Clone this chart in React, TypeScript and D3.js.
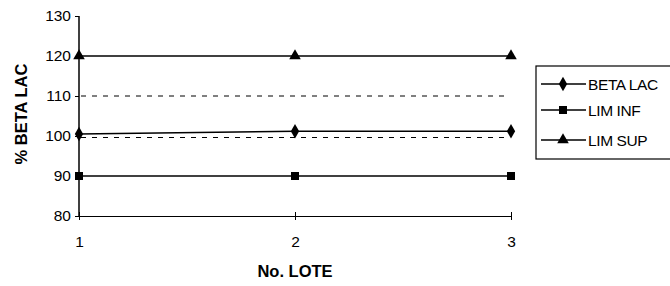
import React, { useRef, useEffect } from 'react';
import * as d3 from 'd3';

const lotes = [1, 2, 3];
const betaLac = [100.5, 101.2, 101.2];
const limInf = [90, 90, 90];
const limSup = [120, 120, 120];
const refLines = [110, 100];
const yTicks = [80, 90, 100, 110, 120, 130];

const series = [
  { name: 'BETA LAC', values: betaLac, symbol: d3.symbolDiamond, size: 60 },
  { name: 'LIM INF', values: limInf, symbol: d3.symbolSquare, size: 64 },
  { name: 'LIM SUP', values: limSup, symbol: d3.symbolTriangle, size: 58 },
];

const App = () => {
  const svgRef = useRef<SVGSVGElement>(null);

  useEffect(() => {
    const width = 670;
    const height = 286;
    const svg = d3.select(svgRef.current).attr('width', width).attr('height', height);
    svg.selectAll('*').remove();

    const font = 'Liberation Sans, Arial, sans-serif';

    const x = d3.scaleLinear().domain([1, 3]).range([79, 511]);
    const y = d3.scaleLinear().domain([80, 130]).range([216, 16]);

    // lineas punteadas de referencia
    svg.selectAll('.ref')
      .data(refLines)
      .enter()
      .append('line')
      .attr('x1', x(1) + 2)
      .attr('x2', x(3) - 4)
      .attr('y1', d => y(d) + (d === 100 ? 1.5 : 0))
      .attr('y2', d => y(d) + (d === 100 ? 1.5 : 0))
      .attr('stroke', '#000')
      .attr('stroke-width', 1)
      .attr('stroke-dasharray', '5,6');

    // eje y
    const yAxis = svg.append('g')
      .attr('transform', `translate(${x(1)},0)`)
      .call(d3.axisLeft(y).tickValues(yTicks).tickSize(4).tickPadding(4));
    yAxis.select('.domain').attr('stroke-width', 1.5).attr('d', `M-0,${y(130)}V${y(80)}`);
    yAxis.selectAll('text')
      .attr('font-family', font)
      .attr('font-size', 15.5)
      .attr('fill', '#000');

    // eje x
    const xAxis = svg.append('g')
      .attr('transform', `translate(0,${y(80)})`)
      .call(d3.axisBottom(x).tickValues(lotes).tickFormat(d3.format('d')).tickSizeInner(4).tickSizeOuter(0).tickPadding(16));
    xAxis.select('.domain').attr('stroke-width', 1.2);
    xAxis.selectAll('.tick line').attr('y1', -4).attr('y2', 4);
    xAxis.selectAll('text')
      .attr('font-family', font)
      .attr('font-size', 15.5)
      .attr('fill', '#000');

    const line = d3.line<number>()
      .x((_, i) => x(lotes[i]))
      .y(d => y(d));

    series.forEach(s => {
      svg.append('path')
        .datum(s.values)
        .attr('d', line)
        .attr('fill', 'none')
        .attr('stroke', '#000')
        .attr('stroke-width', 1.6);
      svg.selectAll(null)
        .data(s.values)
        .enter()
        .append('path')
        .attr('d', d3.symbol().type(s.symbol).size(s.size)())
        .attr('transform', (d, i) => `translate(${x(lotes[i])},${y(d)})`)
        .attr('fill', '#000');
    });

    // titulos de ejes
    svg.append('text')
      .attr('transform', `translate(27,${(y(130) + y(80)) / 2 - 2}) rotate(-90)`)
      .attr('text-anchor', 'middle')
      .attr('font-family', font)
      .attr('font-weight', 'bold')
      .attr('font-size', 16.5)
      .text('% BETA LAC');

    svg.append('text')
      .attr('x', x(2))
      .attr('y', 277)
      .attr('text-anchor', 'middle')
      .attr('font-family', font)
      .attr('font-weight', 'bold')
      .attr('font-size', 16.5)
      .text('No. LOTE');

    // leyenda
    const legend = svg.append('g');
    legend.append('rect')
      .attr('x', 536)
      .attr('y', 66)
      .attr('width', 140)
      .attr('height', 93)
      .attr('fill', '#fff')
      .attr('stroke', '#000')
      .attr('stroke-width', 1.2);

    const itemY = [84, 110, 140];
    series.forEach((s, i) => {
      const g = legend.append('g').attr('transform', `translate(0,${itemY[i]})`);
      g.append('line')
        .attr('x1', 541).attr('x2', 586)
        .attr('stroke', '#000')
        .attr('stroke-width', 1.6);
      g.append('path')
        .attr('d', d3.symbol().type(s.symbol).size(s.size)())
        .attr('transform', 'translate(563,0)')
        .attr('fill', '#000');
      g.append('text')
        .attr('x', 588)
        .attr('y', 5.5)
        .attr('font-family', font)
        .attr('font-size', 15.5)
        .attr('letter-spacing', -0.4)
        .text(s.name);
    });
  }, []);

  return (
    <div style={{ position: 'absolute', left: 0, top: 0 }}>
      <svg ref={svgRef}></svg>
    </div>
  );
};

export default App;
